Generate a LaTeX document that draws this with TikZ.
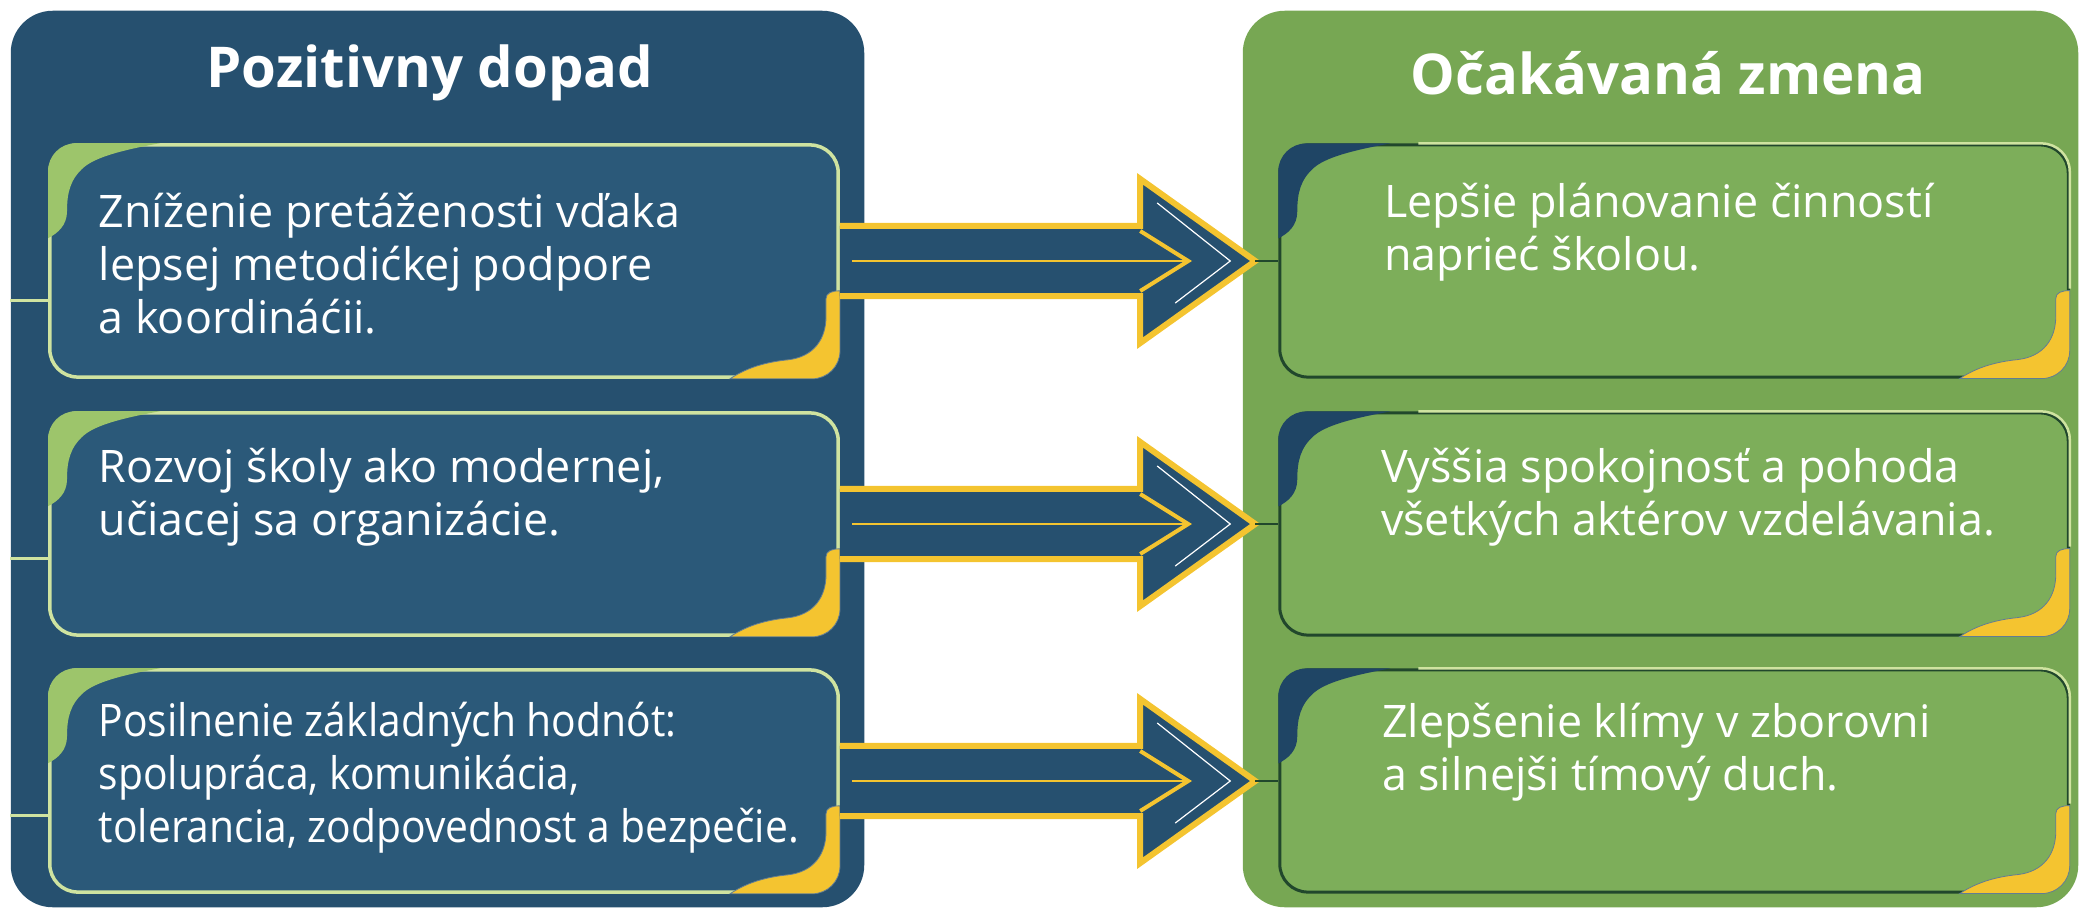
\documentclass[tikz,border=0pt]{standalone}
\usepackage{fontspec}
\setmainfont{Open Sans}
\newfontfamily\narrowsans[FakeStretch=0.91]{Open Sans}
\usetikzlibrary{calc,positioning}

\definecolor{panelblue}{HTML}{26506F}
\definecolor{boxblue}{HTML}{2B5979}
\definecolor{panelgreen}{HTML}{77A753}
\definecolor{boxgreen}{HTML}{7DAE5A}
\definecolor{paleline}{HTML}{CFE3A0}
\definecolor{leafgreen}{HTML}{9DC56B}
\definecolor{goldline}{HTML}{F4C430}
\definecolor{darkgreen}{HTML}{21472C}
\definecolor{navy}{HTML}{1F4565}

\tikzset{
  panel/.style={rounded corners=0.42cm, minimum height=8.96cm, inner sep=0pt},
  bluebox/.style={draw=paleline, line width=0.035cm, fill=boxblue, rounded corners=0.28cm, minimum width=7.88cm},
  greenbox/.style={draw=darkgreen, line width=0.03cm, fill=boxgreen, rounded corners=0.28cm, minimum width=7.88cm},
  heading/.style={text=white, font=\fontsize{16}{19}\selectfont\bfseries},
  txt/.style={text=white, font=\fontsize{12.75}{15.1}\selectfont, align=left, inner sep=0pt, anchor=north west},
  stub/.style={draw=paleline, line width=0.03cm},
  bigarrow/.style={fill=panelblue, draw=goldline, line width=0.06cm, line join=miter},
}

% corner trims of an inner box: #1 node, #2 colour of the top-left wedge
\newcommand{\boxtrim}[2]{%
  \begin{scope}[shift={(#1.north west)}]
    \fill[#2] (0,95) -- (0,28) .. controls (0,12.5) and (12.5,0) .. (28,0) -- (112,0)
      .. controls (85,5) and (50,12) .. (36,24) .. controls (22,36) and (19,50) .. (19,68)
      .. controls (19,82) and (10,90) .. (0,95) -- cycle;
  \end{scope}
  \begin{scope}[shift={(#1.south east)}]
    \filldraw[goldline, draw=navy!70, line width=0.008cm] (-110,0) .. controls (-92,-12) and (-72,-17) .. (-52,-19)
      .. controls (-26,-22) and (-14,-40) .. (-14,-62) -- (-14,-80)
      .. controls (-14,-86) and (-8,-88) .. (0,-88) -- (0,-28)
      .. controls (0,-12.5) and (-12.5,0) .. (-28,0) -- cycle;
  \end{scope}}

\begin{document}
\begin{tikzpicture}[x=0.01cm, y=-0.01cm]
  \useasboundingbox (0,0) rectangle (2082,909);

  % panels
  \node[panel, fill=panelblue, minimum width=8.53cm] (lp) at (437.5,459) {};
  \node[panel, fill=panelgreen, minimum width=8.35cm] (rp) at (1660.5,459) {};
  \node[heading] (lt) at (430,73) {Pozitivny dopad};
  \node[heading] (rt) at (1668,73) {Očakávaná zmena};

  % inner boxes
  \node[bluebox, minimum height=2.32cm] (l1) at (444,261) {};
  \node[bluebox, minimum height=2.22cm] (l2) at (444,524) {};
  \node[bluebox, minimum height=2.22cm] (l3) at (444,781) {};
  \node[greenbox, minimum height=2.32cm] (r1) at (1674,261) {};
  \node[greenbox, minimum height=2.22cm] (r2) at (1674,524) {};
  \node[greenbox, minimum height=2.22cm] (r3) at (1674,781) {};

  \foreach \i in {1,2,3} {
    \boxtrim{l\i}{leafgreen}
    \boxtrim{r\i}{navy}
    \draw[paleline, line width=0.025cm] ([xshift=1.4cm]r\i.north west) -- ([xshift=-0.28cm]r\i.north east)
      arc[start angle=90, end angle=0, radius=0.28cm] -- ([yshift=0.9cm]r\i.south east);
    \coordinate (s\i) at ([yshift=0.78cm]l\i.south west);
    \draw[stub] (s\i -| lp.west) -- (s\i);
  }

  % texts
  \node[txt] (lx1) at ([xshift=0.50cm, yshift=-0.49cm]l1.north west)
    {Zníženie pretáženosti vďaka\\lepsej metodićkej podpore\\a koordináćii.};
  \node[txt] (lx2) at ([xshift=0.50cm, yshift=-0.36cm]l2.north west)
    {Rozvoj školy ako modernej,\\učiacej sa organizácie.};
  \node[txt, font=\fontsize{12.75}{15.1}\narrowsans] (lx3) at ([xshift=0.50cm, yshift=-0.33cm]l3.north west)
    {Posilnenie základných hodnót:\\spolupráca, komunikácia,\\tolerancia, zodpovednost a bezpečie.};
  \node[txt] (rx1) at ([xshift=1.05cm, yshift=-0.39cm]r1.north west)
    {Lepšie plánovanie činností\\naprieć školou.};
  \node[txt] (rx2) at ([xshift=1.02cm, yshift=-0.36cm]r2.north west)
    {Vyššia spokojnosť a pohoda\\všetkých aktérov vzdelávania.};
  \node[txt] (rx3) at ([xshift=1.03cm, yshift=-0.34cm]r3.north west)
    {Zlepšenie klímy v zborovni\\a silnejši tímový duch.};

  % arrows
  \foreach \i in {1,2,3} {
    \coordinate (tip\i) at ([xshift=-0.23cm]r\i.west);
    \draw[bigarrow] ([yshift=0.35cm]l\i.east) -- ([xshift=-1.15cm, yshift=0.35cm]tip\i)
      -- ([xshift=-1.15cm, yshift=0.82cm]tip\i) -- (tip\i)
      -- ([xshift=-1.15cm, yshift=-0.82cm]tip\i) -- ([xshift=-1.15cm, yshift=-0.35cm]tip\i)
      -- ([yshift=-0.35cm]l\i.east);
    \draw[goldline, line width=0.02cm] ([xshift=0.12cm]l\i.east) -- ([xshift=-0.67cm]tip\i);
    \draw[goldline, line width=0.04cm] ([xshift=-1.15cm, yshift=0.30cm]tip\i) -- ([xshift=-0.67cm]tip\i)
      -- ([xshift=-1.15cm, yshift=-0.30cm]tip\i);
    \draw[white, line width=0.012cm] ([xshift=-0.98cm, yshift=0.58cm]tip\i) -- ([xshift=-0.25cm]tip\i)
      -- ([xshift=-0.80cm, yshift=-0.42cm]tip\i);
    \draw[darkgreen, line width=0.02cm] (tip\i) -- (r\i.west);
  }
\end{tikzpicture}
\end{document}
